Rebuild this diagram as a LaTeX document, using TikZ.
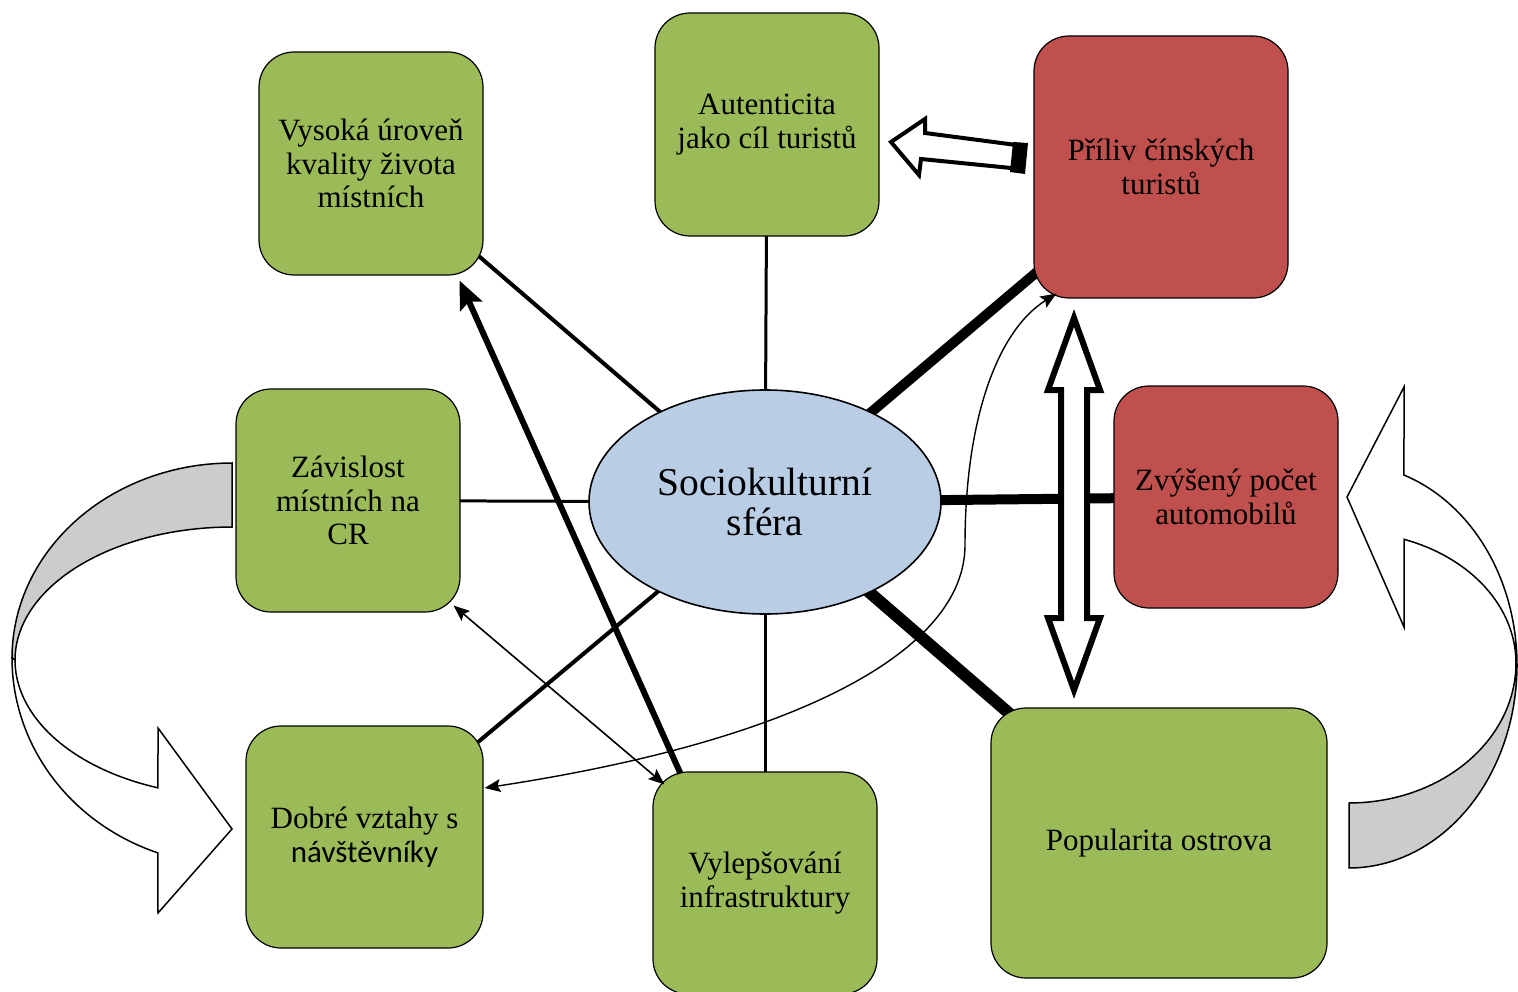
\documentclass[tikz,border=0pt]{standalone}
\usepackage{fontspec}
\setmainfont{Liberation Serif}
\newfontfamily\calib{Carlito}
\usetikzlibrary{shapes.geometric,arrows.meta,calc}
\pgfdeclarelayer{bg}
\pgfsetlayers{bg,main}
\definecolor{gr}{HTML}{9BBB59}
\definecolor{rd}{HTML}{C0504D}
\definecolor{bl}{HTML}{B9CDE5}
\definecolor{gy}{HTML}{CCCCCC}
\tikzset{
  box/.style={draw=black, line width=1.2pt, rounded corners=35pt, align=center, inner sep=0pt,
    font=\fontsize{31}{33.5}\selectfont, text=black},
  gbox/.style={box, fill=gr},
  rbox/.style={box, fill=rd},
  thinarrow/.style={line width=1.6pt, {Stealth[length=16pt,width=13pt,inset=3pt]}-{Stealth[length=16pt,width=13pt,inset=3pt]}},
  blockarrow/.style={draw=black, fill=white, line join=miter},
}
\begin{document}
\begin{tikzpicture}[x=1pt,y=-1pt]
\useasboundingbox (0,0) rectangle (1518,992);
% nodes
\node[gbox, minimum width=224pt, minimum height=223pt] (vys) at (371,163.5) {Vysoká úroveň\\kvality života\\místních};
\node[gbox, minimum width=224pt, minimum height=223pt] (aut) at (767,124.5) {Autenticita\\jako cíl turistů};
\node[rbox, minimum width=254pt, minimum height=262pt] (pri) at (1161,167) {Příliv čínských\\turistů};
\node[gbox, minimum width=224pt, minimum height=223pt] (zav) at (348,500.5) {Závislost\\místních na\\CR};
\node[rbox, minimum width=224pt, minimum height=222pt] (zvy) at (1226,497) {Zvýšený počet\\automobilů};
\node[gbox, minimum width=237pt, minimum height=222pt] (dob) at (364.5,837) {Dobré vztahy s\\{\calib návštěvníky}};
\node[gbox, minimum width=224pt, minimum height=222pt] (vyl) at (765,883) {Vylepšování\\infrastruktury};
\node[gbox, minimum width=336pt, minimum height=270pt] (pop) at (1159,843) {Popularita ostrova};
\node[draw=black, line width=1.6pt, fill=bl, ellipse, minimum width=352pt, minimum height=224pt, inner sep=0pt,
  align=center, font=\fontsize{39.5}{40}\selectfont] (soc) at (765,502) {Sociokulturní\\sféra};
% spokes
\begin{pgfonlayer}{bg}
\draw[line width=4pt] (vys.center) -- (soc.center);
\draw[line width=3pt] (aut.center) -- (soc.center);
\draw[line width=10pt] (pri.center) -- (soc.center);
\draw[line width=3pt] (zav.center) -- (soc.center);
\draw[line width=10pt] (zvy.center) -- (soc.center);
\draw[line width=4pt] (dob.center) -- (soc.center);
\draw[line width=3pt] (vyl.center) -- (soc.center);
\draw[line width=12pt] (pop.center) -- (soc.center);
\end{pgfonlayer}
% arrow endpoints
\coordinate (vylA) at ($(vyl.north west)+(28,2)$);
\coordinate (vysA) at ($(vys.south east)+(-24,5)$);
\coordinate (zavA) at ($(zav.south east)+(-7,-7)$);
\coordinate (vylB) at ($(vyl.north west)+(12,13)$);
\coordinate (dobA) at ($(dob.east)+(1,-49)$);
\coordinate (priA) at ($(pri.south west)+(23,-5)$);
% thick arrow
\draw[line width=6pt, -{Stealth[length=28pt,width=24pt,inset=5pt]}] (vylA) -- (vysA);
% thin double arrow
\draw[thinarrow] (zavA) -- (vylB);
% curved double arrow
\draw[thinarrow, line width=1.4pt] (dobA) .. controls (800,740) and (965,650) .. (965,545)
   .. controls (965,420) and (997,331) .. (priA);
% vertical double block arrow
\draw[blockarrow, line width=6pt] (1074,318) -- (1100,390) -- (1087,390) -- (1087,618) -- (1100,618)
   -- (1074,690) -- (1048,618) -- (1061,618) -- (1061,390) -- (1048,390) -- cycle;
% top block arrow (Priliv -> Autenticita)
\draw[blockarrow, line width=4pt] (891,142) -- (925,119) -- (925,133) -- (1024,146) -- (1021,169)
   -- (921,159) -- (919,175) -- cycle;
\fill[black] (1013,142) -- (1028,143) -- (1025,174) -- (1010,172) -- cycle;
% left curved arrow
\draw[line width=1.5pt, fill=gy] plot[variable=\t, domain=90:180, samples=40] ({232+220*cos(\t)},{658-195*sin(\t)})
   -- plot[variable=\t, domain=180:90, samples=40] ({232+217*cos(\t)},{660-133*sin(\t)}) -- cycle;
\draw[line width=1.5pt, fill=white, line join=miter] plot[variable=\t, domain=180:250.3, samples=40] ({232+220*cos(\t)},{658-207*sin(\t)})
   -- (158,913) -- (232,829) -- (158,728)
   -- plot[variable=\t, domain=250.06:180, samples=40] ({232+217*cos(\t)},{660-136*sin(\t)}) -- cycle;
% right curved arrow
\draw[line width=1.5pt, fill=gy] plot[variable=\t, domain=0:-90, samples=40] ({1349+168*cos(\t)},{665-203*sin(\t)})
   -- plot[variable=\t, domain=-90:0, samples=40] ({1349+167*cos(\t)},{663-140*sin(\t)}) -- cycle;
\draw[line width=1.5pt, fill=white, line join=miter] plot[variable=\t, domain=0:70.9, samples=40] ({1349+168*cos(\t)},{665-201*sin(\t)})
   -- (1404,387) -- (1347,497) -- (1404,627)
   -- plot[variable=\t, domain=70.77:0, samples=40] ({1349+167*cos(\t)},{663-131*sin(\t)}) -- cycle;
\end{tikzpicture}
\end{document}
